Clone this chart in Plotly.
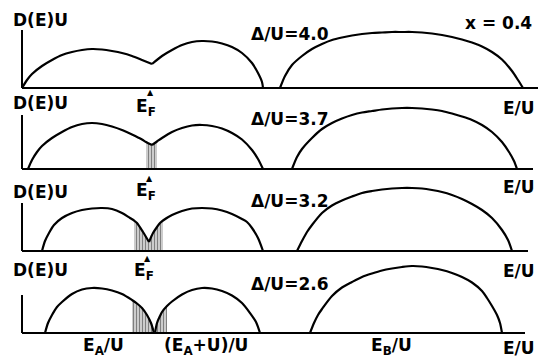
import plotly.graph_objects as go

# ---- data: four densities of states D(E)U versus E/U, x = 0.4 ----
delta_u = ["4.0", "3.7", "3.2", "2.6"]

# lower band, left sub-band (E, D(E)U) per panel
lowL_E = [
    [0, 0.5, 1, 2, 3, 4, 5, 6, 7, 8, 9, 10, 11, 12, 13],
    [0.6, 1, 1.5, 2, 3, 4, 5, 6, 7, 8, 9, 10, 11, 12, 12.4, 13],
    [2, 2.3, 2.7, 3.2, 4, 5, 6, 7, 8, 9, 10, 10.8, 11.2, 11.5, 12.1, 12.7],
    [2.3, 2.6, 3, 3.5, 4, 5, 6, 7, 8, 9, 10, 11, 11.5, 12, 12.5, 12.9, 13.2],
]
lowL_D = [
    [0, 0.8, 1.4, 2.2, 2.8, 3.3, 3.6, 3.8, 3.9, 3.85, 3.7, 3.5, 3.2, 2.8, 2.4],
    [0, 0.9, 1.7, 2.3, 3.1, 3.7, 4.2, 4.5, 4.6, 4.5, 4.25, 3.9, 3.45, 2.95, 2.7, 2.4],
    [0, 1.0, 1.8, 2.6, 3.3, 3.8, 4.1, 4.25, 4.3, 4.2, 3.8, 3.3, 3.05, 2.8, 1.9, 0.9],
    [0, 1.0, 1.8, 2.6, 3.1, 3.9, 4.35, 4.5, 4.45, 4.25, 3.9, 3.3, 2.95, 2.5, 1.8, 1.0, 0],
]
# lower band, right sub-band
lowR_E = [
    [13, 14, 15, 16, 17, 18, 19, 20, 21, 22, 23, 23.6, 24.0, 24.1],
    [13, 13.5, 14, 15, 16, 17, 18, 19, 20, 21, 22, 23, 23.6, 24.1],
    [12.7, 13.1, 13.5, 13.8, 14.1, 15, 16, 17, 18, 19, 20, 21, 22, 22.5, 23, 23.6, 24.1],
    [13.3, 13.5, 13.8, 14, 14.5, 15, 16, 17, 18, 19, 20, 21, 22, 22.8, 23.4, 23.8],
]
lowR_D = [
    [2.4, 3.2, 3.8, 4.3, 4.6, 4.7, 4.65, 4.45, 4.1, 3.5, 2.5, 1.5, 0.6, 0],
    [2.4, 2.75, 3.1, 3.7, 4.1, 4.35, 4.4, 4.3, 4.05, 3.6, 2.95, 1.9, 1.0, 0],
    [0.9, 1.8, 2.4, 2.8, 3.05, 3.6, 4.0, 4.25, 4.3, 4.25, 4.05, 3.7, 3.2, 2.9, 2.3, 1.3, 0],
    [0, 1.0, 1.7, 2.1, 2.7, 3.15, 3.85, 4.3, 4.5, 4.45, 4.2, 3.75, 3.0, 2.0, 1.1, 0],
]
# upper band (centred on E_B)
up_E = [
    [25.8, 26.3, 27, 28, 29, 30, 31, 32, 33, 34, 35, 36, 37, 38, 39, 40, 41, 42, 43,
     44, 45, 46, 47, 48, 49, 49.6, 50.1],
    [27, 27.5, 28, 29, 30, 31, 32, 33, 34, 35, 36, 37, 38, 39, 40, 41, 42, 43, 44,
     45, 46, 47, 48, 48.7, 49.2, 49.5],
    [27.5, 28, 28.5, 29, 30, 31, 32, 33, 34, 35, 36, 37, 38, 39, 40, 41, 42, 43, 44,
     45, 46, 47, 48, 48.6, 49],
    [28.8, 29.2, 29.6, 30, 31, 32, 33, 34, 35, 36, 37, 38, 39, 40, 41, 42, 43, 44,
     45, 46, 46.5, 47, 47.5, 47.8, 48],
]
up_D = [
    [0, 1.2, 2.3, 3.2, 3.9, 4.4, 4.8, 5.05, 5.25, 5.4, 5.5, 5.55, 5.6, 5.6, 5.6,
     5.55, 5.45, 5.3, 5.1, 4.85, 4.55, 4.15, 3.6, 2.85, 1.7, 0.8, 0],
    [0, 1.2, 2.0, 3.1, 4.0, 4.6, 5.05, 5.4, 5.65, 5.8, 5.95, 6.05, 6.1, 6.1, 6.05,
     5.95, 5.8, 5.55, 5.25, 4.9, 4.4, 3.7, 2.7, 1.7, 0.8, 0],
    [0, 1.0, 1.9, 2.6, 3.8, 4.55, 5.05, 5.45, 5.8, 6.0, 6.15, 6.25, 6.3, 6.3, 6.25,
     6.1, 5.9, 5.6, 5.2, 4.7, 4.1, 3.3, 2.1, 1.1, 0],
    [0, 1.0, 1.8, 2.4, 3.7, 4.55, 5.1, 5.6, 5.95, 6.25, 6.45, 6.6, 6.7, 6.65, 6.5,
     6.3, 6.0, 5.6, 5.05, 4.2, 3.5, 2.7, 1.8, 1.0, 0],
]
# occupied states around E_F (hatched), energy windows per panel
hatch_windows = [[], [(12.4, 13.5)], [(11.2, 14.1)], [(11.0, 13.2), (13.3, 14.5)]]

# axis extents per panel
axis_top = [5.8, 5.4, 4.8, 3.8]
axis_end = [51.6, 51.1, 50.6, 50.3]

# ---- layout constants ----
W, H = 543, 360
baseline_px = [88, 169, 251, 333]
PX_PER_UNIT = 10.0
X0_PX = 22
Y_LO, Y_HI = -0.8, 7.4

FONT = "DejaVu Sans"
INK = "black"

fig = go.Figure()

def ax_suffix(i):
    return "" if i == 0 else str(i + 1)

for i in range(4):
    xa = "x" + ax_suffix(i)
    ya = "y" + ax_suffix(i)

    # hatched occupied region
    for lo, hi in hatch_windows[i]:
        for E, D in ((lowL_E[i], lowL_D[i]), (lowR_E[i], lowR_D[i])):
            sel = [(e, d) for e, d in zip(E, D) if lo - 1e-9 <= e <= hi + 1e-9]
            if len(sel) < 2:
                continue
            fig.add_trace(go.Scatter(
                x=[s[0] for s in sel], y=[s[1] for s in sel],
                mode="lines", line=dict(width=0, shape="spline", smoothing=0.8),
                fill="tozeroy", fillcolor="rgba(0,0,0,0)",
                fillpattern=dict(shape="|", size=3, solidity=0.6,
                                 fgcolor=INK, bgcolor="rgba(0,0,0,0)"),
                hoverinfo="skip", showlegend=False, xaxis=xa, yaxis=ya))

    for E, D in ((lowL_E[i], lowL_D[i]), (lowR_E[i], lowR_D[i]), (up_E[i], up_D[i])):
        fig.add_trace(go.Scatter(
            x=E, y=D, mode="lines",
            line=dict(color=INK, width=2.2, shape="spline", smoothing=0.8),
            hoverinfo="skip", showlegend=False, xaxis=xa, yaxis=ya))

    # D(E)U axis and energy axis
    fig.add_shape(type="line", xref=xa, yref=ya, x0=0, x1=0, y0=0, y1=axis_top[i],
                  line=dict(color=INK, width=2))
    fig.add_shape(type="line", xref=xa, yref=ya, x0=0, x1=axis_end[i], y0=0, y1=0,
                  line=dict(color=INK, width=2))

    top_px = baseline_px[i] - Y_HI * PX_PER_UNIT
    bot_px = baseline_px[i] - Y_LO * PX_PER_UNIT
    dom = [max(0.0, 1 - bot_px / H), min(1.0, 1 - top_px / H)]
    x_range = [-X0_PX / PX_PER_UNIT, (W - X0_PX) / PX_PER_UNIT]
    fig.update_layout(**{
        "xaxis" + ax_suffix(i): dict(domain=[0, 1], range=x_range, visible=False,
                                     anchor=ya),
        "yaxis" + ax_suffix(i): dict(domain=dom, range=[Y_LO, Y_HI], visible=False,
                                     anchor=xa),
    })

def note(text, px, py, size=17, bold=True):
    fig.add_annotation(text=text, x=px / W, y=1 - py / H, xref="paper", yref="paper",
                       xanchor="center", yanchor="middle", showarrow=False,
                       font=dict(family=FONT, size=size, color=INK,
                                 weight="bold" if bold else "normal"))

# panel labels
for py in [19.5, 103.5, 191.5, 270]:
    note("D(E)U", 40, py)
for i, py in enumerate([33.5, 119, 201, 284]):
    note("Δ/U=" + delta_u[i], 290, py)
for py in [108, 187, 271, 348]:
    note("E/U", 519, py)
note("x = 0.4", 498, 23.5)

# Fermi level markers
for (ex, ey), (cx, cy) in zip([(146, 107), (146, 191), (144, 271)],
                              [(150, 93), (149, 178), (147, 258)]):
    note("E<sub>F</sub>", ex, ey)
    note("▲", cx, cy, size=8)

# band-centre labels
note("E<sub>A</sub>/U", 103, 346)
note("(E<sub>A</sub>+U)/U", 206, 346)
note("E<sub>B</sub>/U", 391, 346)

fig.update_layout(width=W, height=H, margin=dict(l=0, r=0, t=0, b=0),
                  paper_bgcolor="white", plot_bgcolor="rgba(0,0,0,0)",
                  showlegend=False)

fig.write_html("out.html")
